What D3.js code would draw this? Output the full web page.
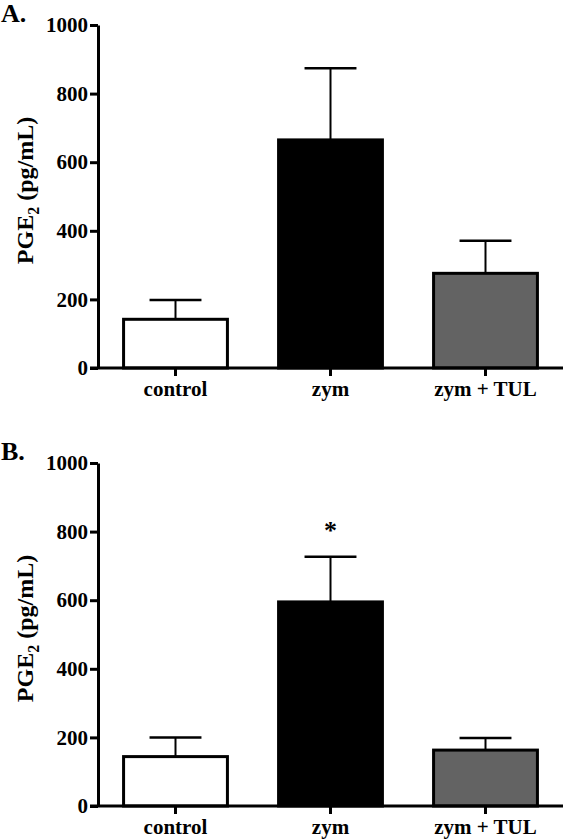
<!DOCTYPE html>
<html>
<head>
<meta charset="utf-8">
<script src="https://cdn.jsdelivr.net/npm/d3@7"></script>
<style>
  html, body { margin: 0; padding: 0; background: #fff; }
  svg { display: block; }
  text { font-family: "Liberation Serif", "Times New Roman", serif; font-weight: bold; fill: #000; }
</style>
</head>
<body>
<script>
// ---- data ----
const categories = ["control", "zym", "zym + TUL"];
const meansA = [142, 665, 276];
const errA = [56, 209, 95];
const meansB = [144, 595, 163];
const errB = [56, 132, 35];
const yTicks = [0, 200, 400, 600, 800, 1000];
const fills = ["#ffffff", "#000000", "#636363"];
const panelLabels = ["A.", "B."];
const starsB = ["", "*", ""];

const W = 566, H = 839;
const svg = d3.select("body").append("svg").attr("width", W).attr("height", H);

const x = d3.scaleBand().domain(categories).range([98, 563]).paddingInner(0.33).paddingOuter(0.165);

function panel(top, label, means, errs, stars) {
  const bottom = top + 343;
  const y = d3.scaleLinear().domain([0, 1000]).range([bottom, top]);
  const g = svg.append("g");

  // bars
  g.selectAll("rect.bar").data(categories).enter().append("rect")
    .attr("class", "bar")
    .attr("x", d => x(d))
    .attr("width", x.bandwidth())
    .attr("y", (d, i) => y(means[i]))
    .attr("height", (d, i) => y(0) - y(means[i]))
    .attr("fill", (d, i) => fills[i])
    .attr("stroke", "#000").attr("stroke-width", 3);

  // error bars
  const capW = x.bandwidth() * 0.5;
  categories.forEach((c, i) => {
    const cx = x(c) + x.bandwidth() / 2;
    g.append("line").attr("x1", cx).attr("x2", cx)
      .attr("y1", y(means[i])).attr("y2", y(means[i] + errs[i]))
      .attr("stroke", "#000").attr("stroke-width", 2);
    g.append("line").attr("x1", cx - capW / 2).attr("x2", cx + capW / 2)
      .attr("y1", y(means[i] + errs[i])).attr("y2", y(means[i] + errs[i]))
      .attr("stroke", "#000").attr("stroke-width", 2.5);
    if (stars && stars[i]) {
      g.append("text").attr("x", cx).attr("y", y(means[i] + errs[i]) - 18)
        .attr("text-anchor", "middle").style("font-size", "26px").text(stars[i]);
    }
  });

  // y axis
  const ya = g.append("g").attr("transform", "translate(98,0)")
    .call(d3.axisLeft(y).tickValues(yTicks).tickFormat(d3.format("d")).tickSize(8).tickSizeOuter(0).tickPadding(2));
  ya.selectAll("path, line").attr("stroke", "#000").attr("stroke-width", 3);
  ya.selectAll("text").style("font-size", "21px").attr("font-family", null);

  // x axis
  const xa = g.append("g").attr("transform", `translate(0,${bottom})`)
    .call(d3.axisBottom(x).tickSize(8).tickSizeOuter(0).tickPadding(5));
  xa.select("path.domain").attr("d", `M90,0H563`);
  xa.selectAll("path, line").attr("stroke", "#000").attr("stroke-width", 3);
  xa.selectAll("text").style("font-size", "21px").attr("font-family", null);

  // y label
  const yl = g.append("text")
    .attr("transform", `translate(33,${(top + bottom) / 2 - 6}) rotate(-90)`)
    .attr("text-anchor", "middle").style("font-size", "24px");
  yl.append("tspan").text("PGE");
  yl.append("tspan").attr("dy", 6).style("font-size", "16px").text("2");
  yl.append("tspan").attr("dy", -6).text(" (pg/mL)");

  // panel label
  g.append("text").attr("x", 1).attr("y", top - 3).style("font-size", "26px").text(label);
}

panel(25, panelLabels[0], meansA, errA, null);
panel(463, panelLabels[1], meansB, errB, starsB);
</script>
</body>
</html>
